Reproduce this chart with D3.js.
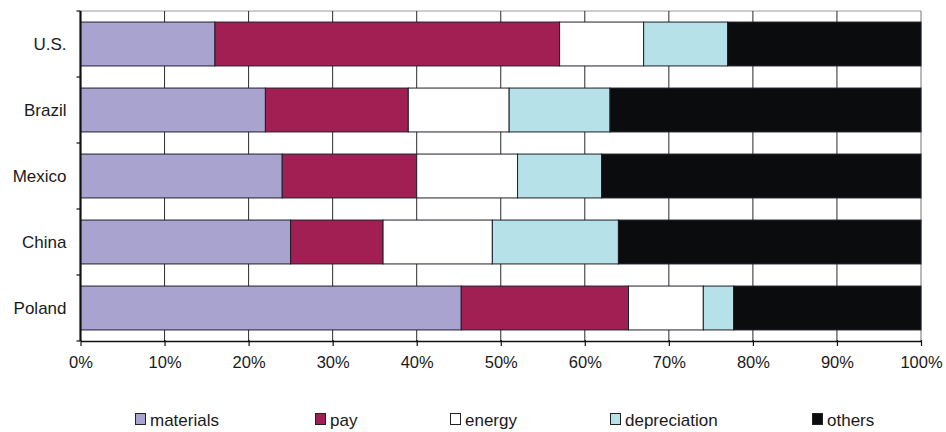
<!DOCTYPE html>
<html>
<head>
<meta charset="utf-8">
<script src="https://cdn.jsdelivr.net/npm/d3@7"></script>
<style>
  html, body { margin: 0; padding: 0; background: #fff; }
  svg { display: block; }
  text { font-family: "Liberation Sans", Arial, sans-serif; fill: #1a1a1a; }
</style>
</head>
<body>
<svg id="chart" width="946" height="432"></svg>
<script>
// Cost structure by country (share of total, %)
const countries = ["U.S.", "Brazil", "Mexico", "China", "Poland"];
const seriesNames = ["materials", "pay", "energy", "depreciation", "others"];
const materials    = [16, 22, 24, 25, 45.3];
const pay          = [41, 17, 16, 11, 19.9];
const energy       = [10, 12, 12, 13, 8.9];
const depreciation = [10, 12, 10, 15, 3.6];
const others       = [23, 37, 38, 36, 22.3];
const xTicks = [0, 10, 20, 30, 40, 50, 60, 70, 80, 90, 100];
const colors = ["#a8a3cf", "#a11f52", "#ffffff", "#b6e1e8", "#0a0c0e"];

const rows = countries.map((c, i) => ({
  country: c,
  materials: materials[i],
  pay: pay[i],
  energy: energy[i],
  depreciation: depreciation[i],
  others: others[i]
}));

const svg = d3.select("#chart");
const plotLeft = 80.5, plotRight = 921, plotTop = 11, plotBottom = 341;

const x = d3.scaleLinear().domain([0, 100]).range([plotLeft, plotRight]);
const y = d3.scaleBand().domain(countries).range([plotTop, plotBottom])
  .paddingInner(0.335).paddingOuter(0.1675);
const color = d3.scaleOrdinal().domain(seriesNames).range(colors);

// plot frame (top and right edges)
svg.append("line").attr("x1", plotLeft).attr("x2", plotRight).attr("y1", plotTop).attr("y2", plotTop)
  .attr("stroke", "#9a9a9a").attr("stroke-width", 1);
svg.append("line").attr("x1", plotRight).attr("x2", plotRight).attr("y1", plotTop).attr("y2", plotBottom)
  .attr("stroke", "#8a8a8a").attr("stroke-width", 1.2);

// vertical gridlines
svg.append("g").selectAll("line").data(xTicks.filter(t => t > 0 && t < 100)).join("line")
  .attr("x1", d => x(d)).attr("x2", d => x(d))
  .attr("y1", plotTop).attr("y2", plotBottom)
  .attr("stroke", "#2a2a2a").attr("stroke-width", 1);

// stacked bars
const stack = d3.stack().keys(seriesNames);
const layers = stack(rows);
svg.append("g").selectAll("g").data(layers).join("g")
  .attr("fill", d => color(d.key))
  .selectAll("rect").data(d => d).join("rect")
  .attr("x", d => x(d[0]))
  .attr("width", d => x(d[1]) - x(d[0]))
  .attr("y", d => y(d.data.country))
  .attr("height", y.bandwidth())
  .attr("stroke", "#1e1e2a")
  .attr("stroke-width", 1);

// bottom axis
const xAxis = d3.axisBottom(x).tickValues(xTicks).tickFormat(d => d + "%")
  .tickSizeInner(5).tickSizeOuter(0).tickPadding(10);
const gx = svg.append("g").attr("transform", `translate(0,${plotBottom})`).call(xAxis);
gx.select(".domain").attr("stroke", "#111").attr("stroke-width", 1.5);
gx.selectAll(".tick line").attr("stroke", "#111").attr("stroke-width", 1.2)
  .attr("y1", -1);
gx.selectAll(".tick text").attr("font-size", 16.5).attr("fill", "#1a1a1a")
  .attr("font-family", "Liberation Sans, Arial, sans-serif");

// left axis: line, boundary ticks and country labels
svg.append("line").attr("x1", plotLeft).attr("x2", plotLeft).attr("y1", plotTop).attr("y2", plotBottom)
  .attr("stroke", "#111").attr("stroke-width", 2.2);
const step = y.step();
const bounds = countries.map(c => y(c) - step * y.paddingInner() / 2).concat([plotBottom]);
bounds[0] = plotTop;
svg.append("g").selectAll("line").data(bounds).join("line")
  .attr("x1", plotLeft - 4).attr("x2", plotLeft)
  .attr("y1", d => d).attr("y2", d => d)
  .attr("stroke", "#111").attr("stroke-width", 1.2);
svg.append("g").selectAll("text").data(countries).join("text")
  .attr("x", plotLeft - 14)
  .attr("y", d => y(d) + y.bandwidth() / 2)
  .attr("dy", "0.36em")
  .attr("text-anchor", "end")
  .attr("font-size", 17)
  .text(d => d);

// legend along the bottom edge
const legendX = [135, 315, 450, 610, 812];
const legend = svg.append("g").selectAll("g").data(seriesNames).join("g")
  .attr("transform", (d, i) => `translate(${legendX[i]},413)`);
legend.append("rect").attr("x", 0.5).attr("y", 0.5).attr("width", 10).attr("height", 11)
  .attr("fill", d => color(d)).attr("stroke", "#222").attr("stroke-width", 1);
legend.append("text").attr("x", 15).attr("y", 13)
  .attr("font-size", 17)
  .text(d => d);
</script>
</body>
</html>
